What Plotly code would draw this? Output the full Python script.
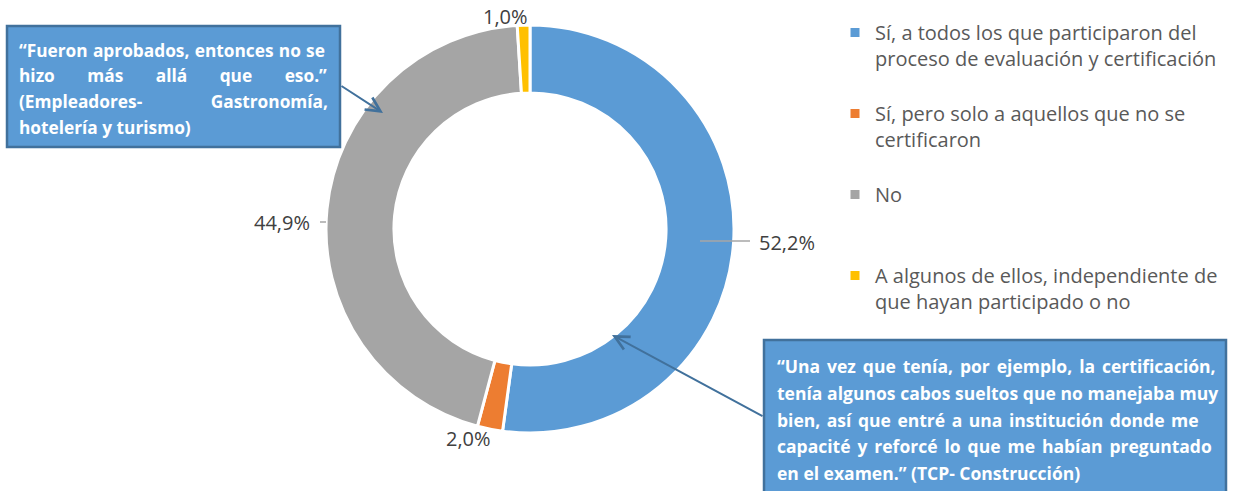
import plotly.graph_objects as go

W, H = 1236, 491

categories = [
    "Sí, a todos los que participaron del<br>proceso de evaluación y certificación<br>\u00a0",
    "Sí, pero solo a aquellos que no se<br>certificaron<br>\u00a0",
    "No<br>\u00a0<br>\u00a0",
    "A algunos de ellos, independiente de<br>que hayan participado o no",
]
values = [52.2, 2.0, 44.9, 1.0]
value_labels = ["52,2%", "2,0%", "44,9%", "1,0%"]
colors = ["#5B9BD5", "#ED7D31", "#A5A5A5", "#FFC000"]

quote_left = [
    "“Fueron aprobados, entonces no se",
    "hizo más allá que eso.”",
    "(Empleadores- Gastronomía,",
    "hotelería y turismo)",
]
quote_right = [
    "“Una vez que tenía, por ejemplo, la certificación,",
    "tenía algunos cabos sueltos que no manejaba muy",
    "bien, así que entré a una institución donde me",
    "capacité y reforcé lo que me habían preguntado",
    "en el examen.” (TCP- Construcción)",
]
# extra word spacing (px) to imitate justified text
spacing_left = [0.8, 28.0, 64.0, 0]
spacing_right = [2.4, 0.2, 2.0, 2.4, 0]


def px(x):
    return x / W


def py(y):
    return 1 - y / H


cx, cy, R = 530, 229, 204

fig = go.Figure()
fig.add_trace(go.Pie(
    labels=categories,
    values=values,
    textinfo="none",
    marker=dict(colors=colors, line=dict(color="white", width=3)),
    hole=0.667,
    sort=False,
    direction="clockwise",
    rotation=0,
    domain=dict(x=[px(cx - R), px(cx + R)], y=[py(cy + R), py(cy - R)]),
    customdata=value_labels,
    hovertemplate="%{label}: %{customdata}<extra></extra>",
))

shapes = []
annotations = []

# data labels (outside the ring) and their leader lines
label_pos = [(787, 242), (468, 438), (282, 222), (505, 17)]
for lab, (lx, ly) in zip(value_labels, label_pos):
    annotations.append(dict(xref="paper", yref="paper", x=px(lx), y=py(ly),
                            xanchor="center", yanchor="middle", showarrow=False,
                            text=lab, font=dict(family="Open Sans", size=20, color="#404040")))
shapes.append(dict(type="line", xref="paper", yref="paper",
                   x0=px(700), x1=px(750), y0=py(241), y1=py(241),
                   line=dict(color="#A6A6A6", width=1.5)))
shapes.append(dict(type="line", xref="paper", yref="paper",
                   x0=px(320), x1=px(326), y0=py(222), y1=py(222),
                   line=dict(color="#A6A6A6", width=1.5)))

# callout boxes
shapes.append(dict(type="rect", xref="paper", yref="paper",
                   x0=px(7), x1=px(340), y0=py(147), y1=py(26),
                   fillcolor="#5B9BD5", line=dict(color="#41719C", width=2.5)))
shapes.append(dict(type="rect", xref="paper", yref="paper",
                   x0=px(764), x1=px(1226), y0=py(496), y1=py(340),
                   fillcolor="#5B9BD5", line=dict(color="#41719C", width=2.5)))

for i, line in enumerate(quote_left):
    annotations.append(dict(xref="paper", yref="paper", x=px(17), y=py(50 + 25.7 * i),
                            xanchor="left", yanchor="middle", showarrow=False,
                            text="<b><span style='word-spacing:%.1fpx'>%s</span></b>" % (spacing_left[i], line),
                            font=dict(family="Open Sans", size=17.3, color="white")))
for i, line in enumerate(quote_right):
    annotations.append(dict(xref="paper", yref="paper", x=px(775), y=py(366 + 26.8 * i),
                            xanchor="left", yanchor="middle", showarrow=False,
                            text="<b><span style='word-spacing:%.1fpx'>%s</span></b>" % (spacing_right[i], line),
                            font=dict(family="Open Sans", size=17.5, color="white")))

# arrows
annotations.append(dict(xref="paper", yref="paper", x=px(383), y=py(113),
                        ax=340 - 383, ay=85 - 113, text="", showarrow=True,
                        arrowhead=5, arrowsize=1.4, arrowwidth=2, arrowcolor="#41719C"))
annotations.append(dict(xref="paper", yref="paper", x=px(612), y=py(335),
                        ax=764 - 612, ay=417 - 335, text="", showarrow=True,
                        arrowhead=5, arrowsize=1.4, arrowwidth=2, arrowcolor="#41719C"))

fig.update_layout(
    width=W, height=H,
    margin=dict(l=0, r=0, t=0, b=0),
    paper_bgcolor="white",
    plot_bgcolor="white",
    showlegend=True,
    legend=dict(x=px(835), y=py(13), xanchor="left", yanchor="top",
                font=dict(family="Open Sans", size=20, color="#595959"),
                valign="top", traceorder="normal"),
    shapes=shapes,
    annotations=annotations,
)

fig.write_html("out.html", config={"displayModeBar": False},
               post_script="document.body.style.margin='0';")
